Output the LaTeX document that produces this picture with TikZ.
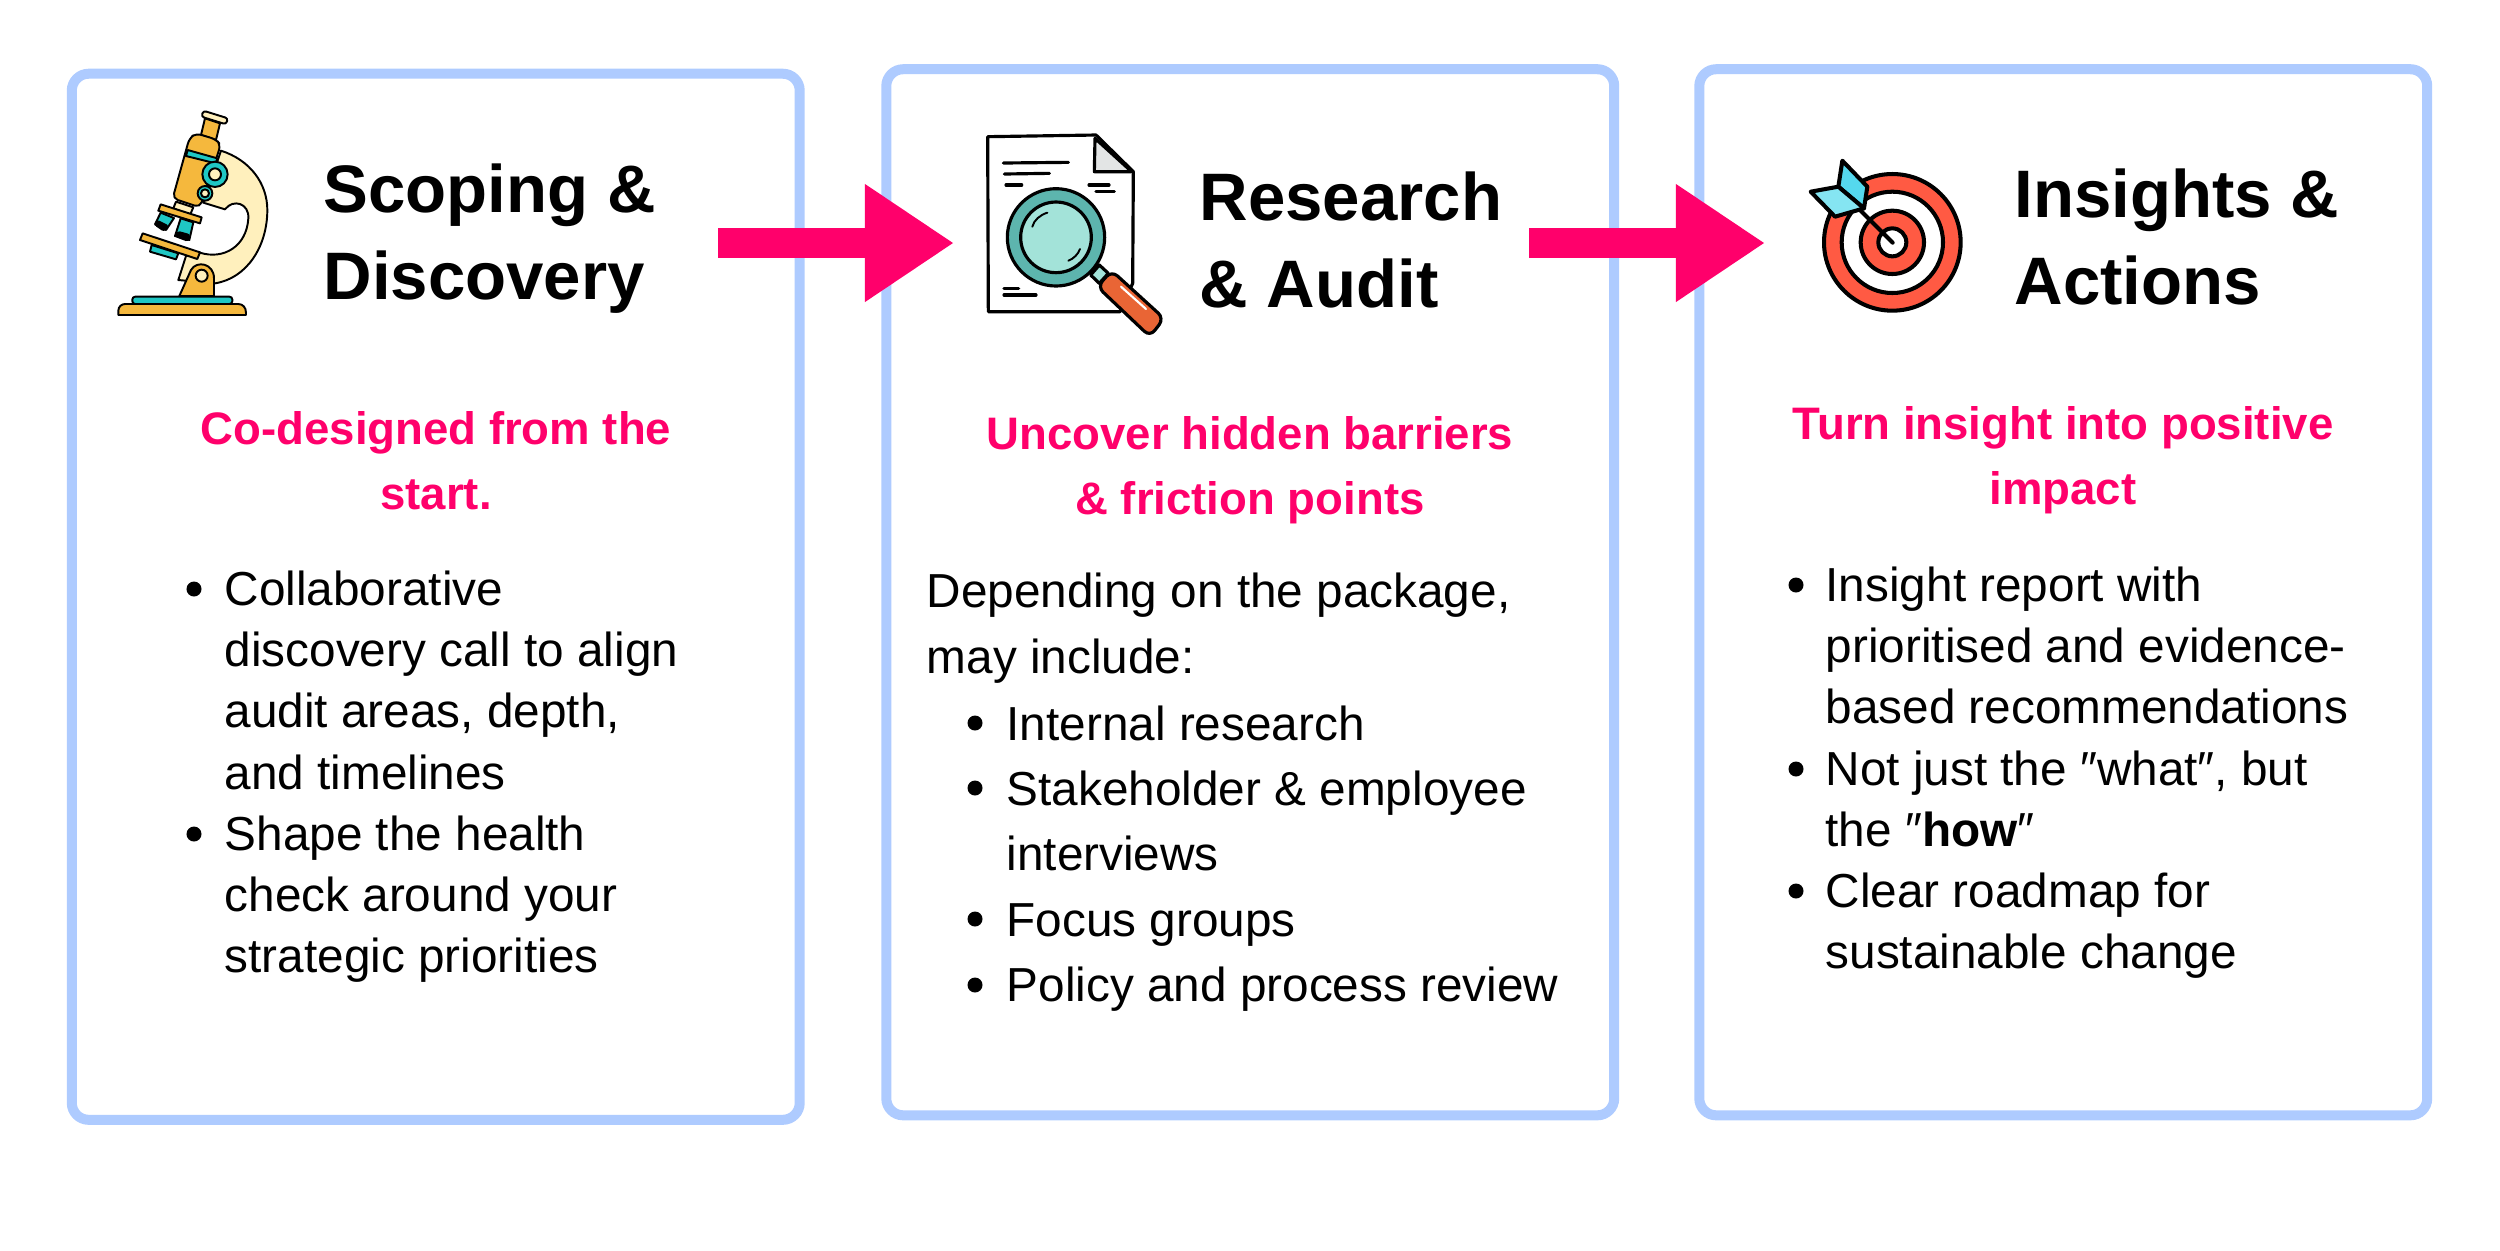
\documentclass[tikz,border=0pt]{standalone}
\usepackage{fontspec}
\setmainfont{Liberation Sans}
\usetikzlibrary{arrows.meta}
\definecolor{boxblue}{HTML}{AECBFF}
\definecolor{hotpink}{HTML}{FF006B}
\definecolor{mcream}{HTML}{FFF0BD}
\definecolor{morange}{HTML}{F5B83D}
\definecolor{mteal}{HTML}{1FC7C4}
\definecolor{gteal}{HTML}{5DB5AE}
\definecolor{gpale}{HTML}{A3E3D9}
\definecolor{gorange}{HTML}{E96535}
\definecolor{ggrey}{HTML}{E3E5E5}
\definecolor{tred}{HTML}{FF5A43}
\definecolor{tblue}{HTML}{55D8EE}
\definecolor{tpale}{HTML}{85E5F2}
\tikzset{
  stagebox/.style={draw=boxblue,line width=1mm,rounded corners=4.8pt,fill=white,minimum width=72.75mm,minimum height=104.55mm,inner sep=0pt},
  flow/.style={hotpink,line width=3mm,-{Triangle[length=8.8mm,width=11.8mm,line width=0pt]}},
  titletext/.style={anchor=base west,inner sep=0pt,font=\fontsize{19.1}{22}\selectfont\bfseries},
  subtext/.style={anchor=base,inner sep=0pt,text=hotpink,font=\fontsize{12.95}{16}\selectfont\bfseries},
  bodytext/.style={anchor=base west,inner sep=0pt,font=\fontsize{13.57}{16}\selectfont},
  bulletdot/.style={circle,fill=black,inner sep=0pt,minimum size=1.5mm},
  ink/.style={draw=black,line width=0.55pt,line join=round},
  ink2/.style={draw=black,line width=0.9pt,line join=round,line cap=round},
  ink3/.style={draw=black,line width=1.15pt,line join=round},
}
% name, x, first baseline y, leading, lines
\newcommand{\textlines}[6]{%
  \foreach \t [count=\i] in {#6} {
    \node[#1] (#2-\i) at ({#3},{#4+(\i-1)*#5}) {\t};
  }%
}
\begin{document}
\begin{tikzpicture}[x=0.01cm,y=-0.01cm]
\useasboundingbox (0,0) rectangle (2500,1250);
% boxes
\node[stagebox] (box1) at (435.75,596.75) {};
\node[stagebox] (box2) at (1250.25,592.25) {};
\node[stagebox] (box3) at (2063.25,592.25) {};
% arrows
\coordinate (a1s) at (718,243); \coordinate (a1e) at (953,243);
\coordinate (a2s) at (1529,243); \coordinate (a2e) at (1764,243);
\draw[flow] (a1s) -- (a1e);
\draw[flow] (a2s) -- (a2e);
% titles
\textlines{titletext}{t1}{323}{212}{87}{{Scoping \&},{Discovery}}
\textlines{titletext}{t2}{1199}{220}{87}{{Research},{\& Audit}}
\textlines{titletext}{t3}{2014}{217}{87}{{Insights \&},{Actions}}
% subheads
\textlines{subtext}{s1}{436}{444.5}{65}{{Co-designed from the},{start.}}
\textlines{subtext}{s2}{1250}{449.5}{65}{{Uncover hidden barriers},{\& friction points}}
\textlines{subtext}{s3}{2063}{439.5}{65}{{Turn insight into positive},{impact}}
% box 1 body
\textlines{bodytext}{b1}{224}{605.5}{61.2}{{Collaborative},{discovery call to align},{audit areas, depth,},{and timelines},{Shape the health},{check around your},{strategic priorities}}
\node[bulletdot] (d11) at (194,589) {};
\node[bulletdot] (d12) at (194,834) {};
% box 2 body
\textlines{bodytext}{b2}{926}{607}{66}{{Depending on the package,},{may include:}}
\textlines{bodytext}{b3}{1006}{740}{65.4}{{Internal research},{Stakeholder \& employee},{interviews},{Focus groups},{Policy and process review}}
\node[bulletdot] (d21) at (975,723) {};
\node[bulletdot] (d22) at (975,788) {};
\node[bulletdot] (d23) at (975,919) {};
\node[bulletdot] (d24) at (975,985) {};
% box 3 body
\textlines{bodytext}{b4}{1825}{601.5}{61.2}{{Insight report with},{prioritised and evidence-},{based recommendations},{Not just the ″what″, but},{the ″\textbf{how}″},{Clear roadmap for},{sustainable change}}
\node[bulletdot] (d31) at (1796,585) {};
\node[bulletdot] (d32) at (1796,769) {};
\node[bulletdot] (d33) at (1796,891) {};
% microscope
\begin{scope}[shift={(90,90)},scale=0.33333]
\path[ink,fill=mcream] (393,182) .. controls (480,210) and (532,280) .. (532,360) .. controls (532,470) and (470,565) .. (375,580) -- (265,570) -- (288,498) -- (330,488) .. controls (400,510) and (470,470) .. (475,385) .. controls (478,340) and (430,325) .. (405,358) -- (340,338) -- cycle;
\path[ink,fill=morange] (345,85) -- (390,100) -- (378,150) -- (333,135) -- cycle;
\path[ink,fill=mcream,rounded corners=0.8pt] (340,62) -- (414,85) -- (408,103) -- (334,80) -- cycle;
\path[ink,fill=mcream] (258,335) -- (310,352) -- (300,375) -- (250,355) -- cycle;
\path[ink,fill=morange,rounded corners=1.5pt] (318,130) -- (378,148) -- (392,165) -- (330,352) -- (248,325) -- (298,145) -- cycle;
\path[ink,fill=mteal] (293,180) -- (382,205) -- (377,220) -- (288,198) -- cycle;
\path[ink,fill=mteal] (212,368) -- (252,384) -- (228,420) -- (195,403) -- cycle;
\path[fill=black,rounded corners=0.8pt] (200,388) -- (238,407) -- (222,426) -- (192,405) -- cycle;
\path[ink,fill=mteal] (272,385) -- (310,397) -- (298,450) -- (255,438) -- cycle;
\path[fill=black,rounded corners=0.8pt] (262,422) -- (302,433) -- (295,456) -- (253,440) -- cycle;
\path[ink,fill=morange] (212,343) -- (335,382) -- (330,400) -- (205,362) -- cycle;
\path[ink,fill=mteal] (185,465) -- (265,490) -- (258,508) -- (180,485) -- cycle;
\path[ink,fill=morange] (158,430) -- (330,487) -- (322,507) -- (150,450) -- cycle;
\path[ink,fill=mteal] (375,253) circle (38);
\path[ink,fill=mcream] (375,253) circle (18);
\path[ink,fill=mteal] (345,310) circle (22);
\path[ink,fill=mcream] (345,310) circle (12);
\path[ink,fill=morange] (268,618) -- (303,540) .. controls (320,510) and (372,520) .. (372,565) -- (372,618) -- cycle;
\path[ink,fill=mcream] (335,557) circle (18);
\path[ink,fill=mteal,rounded corners=0.8pt] (127,642) -- (127,620) -- (427,620) -- (427,642) -- cycle;
\path[ink,fill=morange] (85,675) -- (85,662) .. controls (85,650) and (95,642) .. (105,642) -- (445,642) .. controls (458,642) and (468,652) .. (468,668) -- (468,675) -- cycle;
\end{scope}
% document and magnifier
\begin{scope}[shift={(960,110)},scale=0.33333]
\path[ink2,fill=white] (83,80) -- (408,75) -- (520,185) -- (518,520) -- (480,605) -- (85,605) -- cycle;
\path[ink2,fill=ggrey] (405,85) -- (403,185) -- (515,185) -- cycle;
\draw[ink2] (130,159) -- (325,157);
\draw[ink2] (133,192) -- (268,190);
\draw[ink2] (138,225) -- (185,225);
\draw[ink2] (387,225) -- (447,225);
\draw[ink2] (408,245) -- (463,245);
\draw[ink2] (132,535) -- (176,535);
\draw[ink2] (132,555) -- (228,555);
\path[ink2,fill=gpale] (392,495) -- (418,465) -- (445,490) -- (418,520) -- cycle;
\path[ink2,fill=gteal] (288,382) circle (146);
\path[ink2,fill=gpale] (288,382) circle (106);
\draw[ink,line cap=round] (217,350) .. controls (222,330) and (240,315) .. (262,308);
\draw[ink,line cap=round] (325,452) .. controls (340,447) and (355,432) .. (360,417);
\path[ink2,fill=gorange,rounded corners=2.2pt] (455,482) -- (612,625) -- (570,680) -- (412,530) -- cycle;
\draw[white,line width=0.6pt,line cap=round] (483,530) -- (558,597);
\end{scope}
% target
\begin{scope}[shift={(1790,140)},scale=0.33333]
\path[ink3,fill=tred] (307,307) circle (205);
\path[ink3,fill=white] (307,307) circle (152);
\path[ink3,fill=tred] (307,307) circle (95);
\path[ink3,fill=white] (307,307) circle (42);
\draw[ink3,line cap=round] (308,308) -- (195,195);
\path[ink3,fill=tblue] (157,62) -- (232,140) -- (222,205) -- (145,140) -- cycle;
\path[ink3,fill=tpale] (62,155) -- (145,140) -- (222,205) -- (135,230) -- cycle;
\end{scope}
\end{tikzpicture}
\end{document}
